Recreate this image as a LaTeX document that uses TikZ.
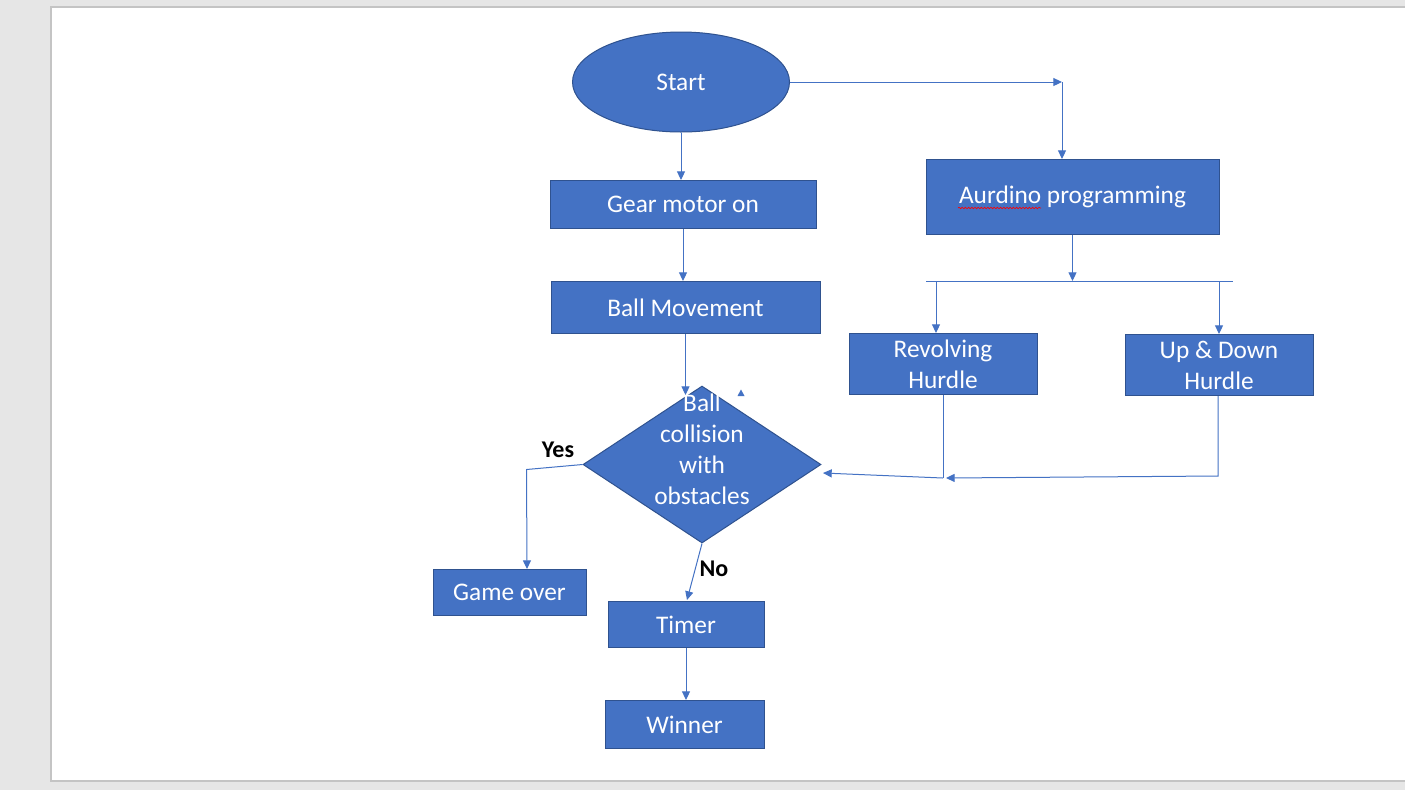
\documentclass[tikz,border=0pt]{standalone}
\usepackage{fontspec}
\setmainfont{Carlito}
\usetikzlibrary{positioning,arrows.meta,calc,shapes.geometric,decorations.pathmorphing}
\definecolor{boxblue}{HTML}{4472C4}
\definecolor{boxedge}{HTML}{2F528F}
\definecolor{pagegray}{HTML}{E6E6E6}
\definecolor{pageedge}{HTML}{C4C4C4}

\begin{document}
\begin{tikzpicture}[
  x=0.75pt, y=-0.75pt,
  box/.style={draw=boxedge, fill=boxblue, line width=0.75pt, inner sep=0pt,
              text=white, align=center, font=\fontsize{19}{23.25}\selectfont},
  arr/.style={-{Triangle[length=6.5pt, width=6pt]}, draw=boxblue, line width=0.75pt},
  link/.style={draw=boxblue, line width=0.75pt},
  lab/.style={font=\fontsize{18}{21}\selectfont\bfseries, text=black}
]
  \useasboundingbox (0,0) rectangle (1405,790);
  \fill[pagegray] (0,0) rectangle (1405,790);
  \filldraw[fill=white, draw=pageedge, line width=1pt] (51,7) rectangle (1420,781);

  % main column
  \node[box, ellipse, minimum width=162.75pt, minimum height=75pt] (start) at (681,82) {Start};
  \node[box, minimum width=199.5pt, minimum height=36pt] (gear) at (683,204.5) {Gear motor on};
  \node[box, minimum width=201.75pt, minimum height=39pt] (ball) at (685.5,307.5) {Ball Movement};
  \node[box, diamond, minimum width=178.5pt, minimum height=117.75pt] (coll) at (702,464.5) {};
  \node[text=white, align=center, font=\fontsize{19}{23.25}\selectfont]
    (colltxt) at ($(coll)+(0,-15)$) {Ball\\collision\\with\\obstacles};
  \node[box, minimum width=114.75pt, minimum height=34.5pt] (over) at (509.5,592.5) {Game over};
  \node[box, minimum width=117pt, minimum height=34.5pt] (timer) at (686,624.5) {Timer};
  \node[box, minimum width=119.25pt, minimum height=36pt] (winner) at (684.5,724.5) {Winner};

  % right branch
  \node[box, minimum width=219.75pt, minimum height=56.25pt] (prog) at (1072.5,197) {Aurdino programming};
  \draw[red, line width=0.5pt, decorate, decoration={snake, amplitude=0.55pt, segment length=2.4pt}]
    (958,208) -- (1041,208);
  \node[box, minimum width=141pt, minimum height=45.75pt] (revol) at (943,364) {Revolving\\Hurdle};
  \node[box, minimum width=141pt, minimum height=45.75pt] (updown) at (1219,365) {Up \& Down\\Hurdle};

  \node[lab] (yes) at (558,450) {Yes};
  \node[lab] (no) at (714,569) {No};

  \draw[arr] (start.south) -- (start.south |- gear.north);
  \draw[arr] (gear.south) -- (gear.south |- ball.north);
  \draw[arr] (ball.south) -- ++(0,61);
  \draw[arr] (timer.south) -- (timer.south |- winner.north);
  \draw[arr] (coll.south) -- ($(timer.north)+(1,-1)$);
  \draw[arr] (coll.west) -- ++(-56,5) -- ($(over.north)+(17.5,0)$);
  \fill[boxblue] (737.5,396) -- (744.5,396) -- (741,389.5) -- cycle;

  % Start -> programming, with a tip at the corner
  \coordinate (turn) at ($(start.east -| prog.north)+(-10.5,0)$);
  \draw[arr] (start.east) -- (turn);
  \draw[arr] (turn) -- (turn |- prog.north);

  % split bar under the programming box
  \coordinate (barL) at (926,281);
  \coordinate (barR) at (1233,281);
  \draw[link] (barL) -- (barR);
  \draw[arr] (prog.south) -- (prog.south |- barL);
  \draw[arr] ($(revol.north |- barL)+(-7,0)$) -- ($(revol.north)+(-7,0)$);
  \draw[arr] (updown.north |- barL) -- (updown.north);

  % hurdles back to the decision
  \coordinate (join) at (943,478);
  \draw[link] (revol.south) -- (join);
  \draw[arr] ($(updown.south)+(-1,0)$) -- ++(0,80) -- ($(join)+(3,0)$);
  \draw[arr] (join) -- ($(coll.east)+(1.5,8.5)$);
\end{tikzpicture}
\end{document}
